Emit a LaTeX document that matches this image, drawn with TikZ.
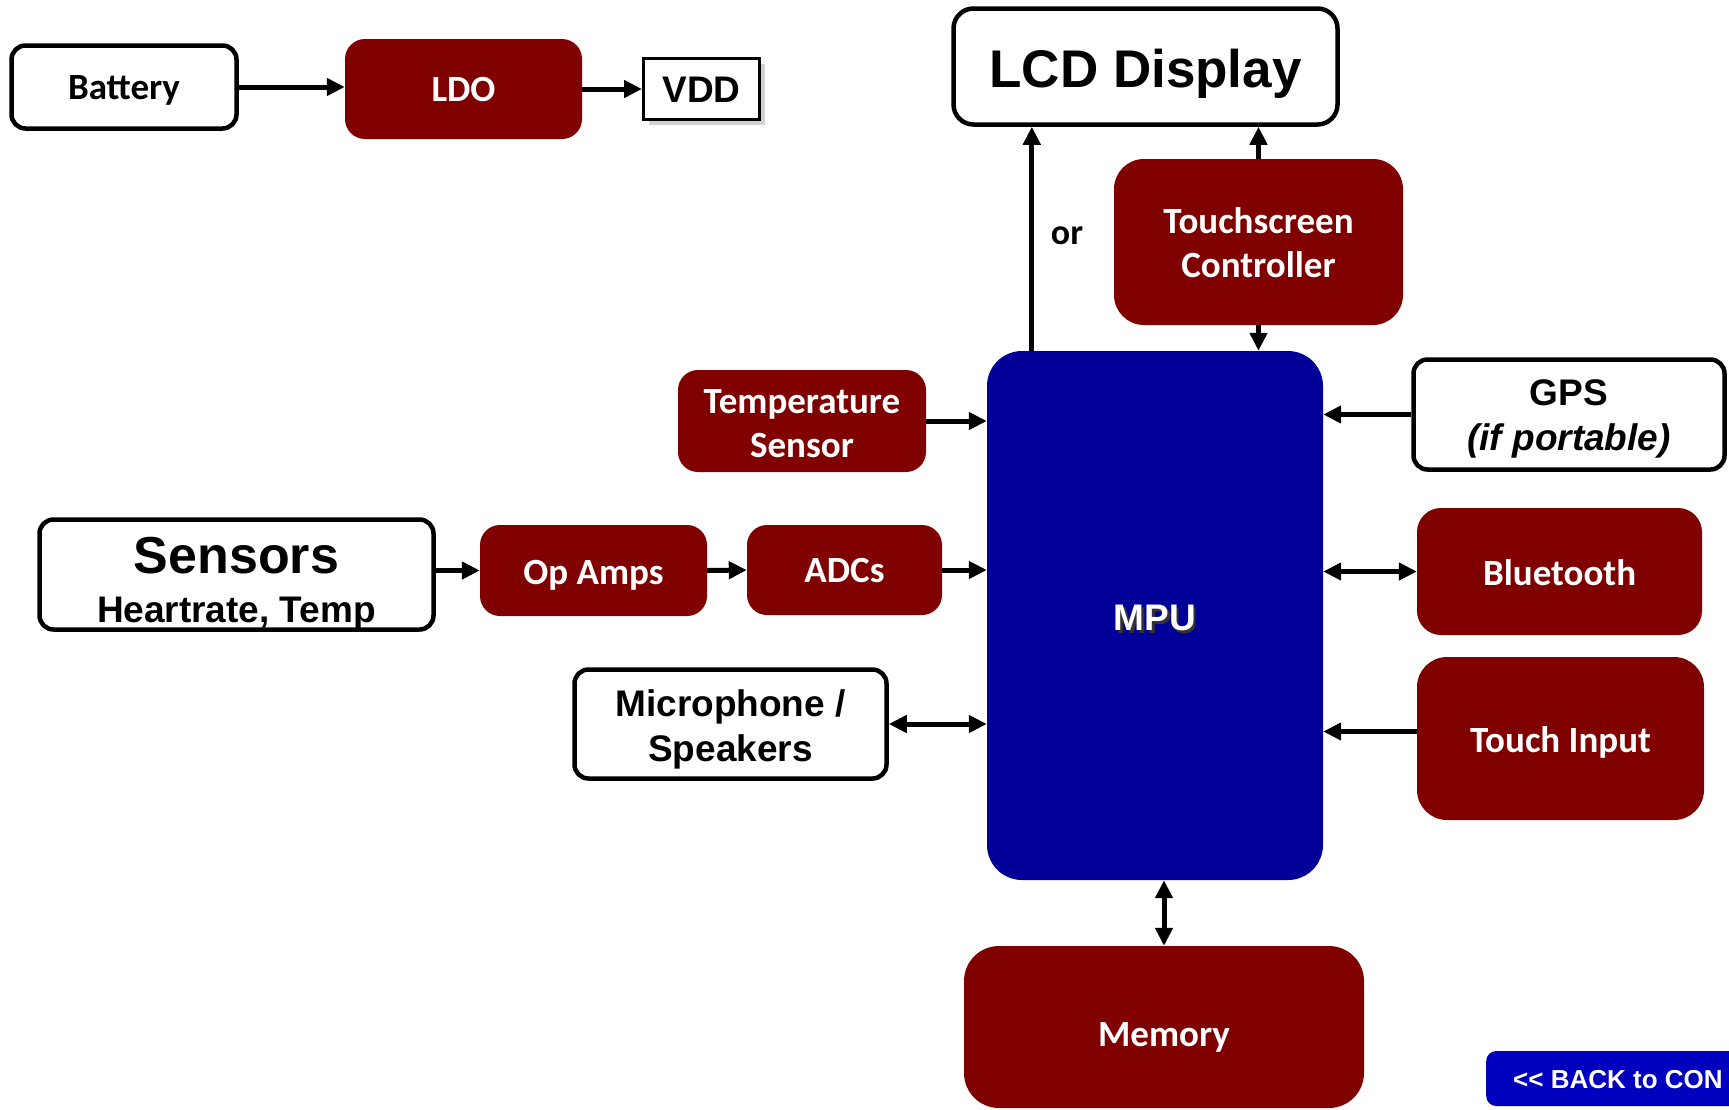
\documentclass[tikz,border=0pt]{standalone}
\usepackage{fontspec}
\setmainfont{Carlito}
\newfontfamily\arialfont{Liberation Sans}
\definecolor{chipred}{RGB}{128, 0, 0}
\definecolor{mpublue}{RGB}{0, 0, 153}
\definecolor{backblue}{RGB}{0, 0, 190}
\usepackage{tikz}
\usetikzlibrary{arrows.meta, shadows}
% first baseline sits #1 below the node centre
\newcommand{\lowered}[2]{\raisebox{-#1}[0pt][0pt]{\begin{tabular}[t]{@{}c@{}}#2\end{tabular}}}

\begin{document}
\begin{tikzpicture}[x=1pt, y=-1pt,
  redbox/.style={fill=chipred, text=white, rounded corners=20pt, inner sep=0pt, align=center,
    font=\bfseries\fontsize{37}{44}\selectfont},
  whitebox/.style={draw=black, line width=4.5pt, fill=white, rounded corners=14pt, inner sep=0pt, align=center},
  armfont/.style={font=\arialfont\bfseries\fontsize{37}{45}\selectfont},
  conn/.style={line width=5pt, -{Triangle[length=18pt, width=17pt]}},
  dconn/.style={line width=5pt, {Triangle[length=18pt, width=17pt]}-{Triangle[length=18pt, width=17pt]}}]
  \useasboundingbox (0,0) rectangle (1729,1109);
  \clip (0,0) rectangle (1729,1109);
  \fill[white] (0,0) rectangle (1729,1109);

  \node (bat) [whitebox, minimum width=225pt, minimum height=83pt,
    font=\bfseries\fontsize{37}{44}\selectfont] at (124,87) {\lowered{12.9pt}{Battery}};
  \node (ldo) [redbox, minimum width=237pt, minimum height=100pt] at (463.5,89) {\lowered{12pt}{LDO}};
  \node (vdd) [draw=black, line width=3pt, fill=white, inner sep=0pt, minimum width=116pt, minimum height=61pt,
    drop shadow={shadow xshift=5pt, shadow yshift=-5pt, fill=black!35}, armfont] at (701.5,89) {\lowered{13.5pt}{VDD}};

  \node (lcd) [whitebox, rounded corners=20pt, minimum width=384pt, minimum height=116pt,
    font=\arialfont\bfseries\fontsize{53}{60}\selectfont] at (1145.5,66.5) {\lowered{20.9pt}{LCD Display}};
  \node (tc) [redbox, rounded corners=30pt, minimum width=289pt, minimum height=166pt] at (1258.5,242)
    {\lowered{-8.7pt}{Touchscreen\\Controller}};
  \node (orlabel) [font=\bfseries\fontsize{36}{40}\selectfont, inner sep=0pt, anchor=base] at (1067,244.5) {or};

  \node (mpu) [fill=mpublue, rounded corners=35pt, minimum width=336pt, minimum height=529pt] at (1155,615.5) {};
  \node (mpushade) [armfont, text=black!80, inner sep=0pt, anchor=base] at ([xshift=2.5pt, yshift=-17.7pt]mpu.center) {MPU};
  \node (mpulabel) [armfont, text=white, inner sep=0pt, anchor=base] at ([yshift=-15.2pt]mpu.center) {MPU};

  \node (ts) [redbox, minimum width=248pt, minimum height=102pt] at (802,421) {\lowered{-7.9pt}{Temperature\\Sensor}};
  \node (gps) [whitebox, minimum width=311pt, minimum height=110pt, armfont] at (1569,414.5)
    {\lowered{-8.7pt}{GPS\\\itshape (if portable)}};

  \node (sensors) [whitebox, minimum width=394pt, minimum height=110pt,
    font=\arialfont\bfseries\fontsize{52}{49}\selectfont] at (236.5,574.5)
    {\lowered{-1.2pt}{Sensors\\\fontsize{37}{49}\selectfont Heartrate, Temp}};
  \node (opamp) [redbox, minimum width=227pt, minimum height=91pt] at (593.5,570.5) {\lowered{13.5pt}{Op Amps}};
  \node (adc) [redbox, minimum width=195pt, minimum height=90pt] at (844.5,570) {\lowered{12.9pt}{ADCs}};
  \node (bt) [redbox, rounded corners=24pt, minimum width=285pt, minimum height=127pt] at (1559.5,571.5) {\lowered{13.6pt}{Bluetooth}};

  \node (mic) [whitebox, minimum width=312pt, minimum height=109pt, armfont] at (730.5,724) {\lowered{-7.3pt}{Microphone /\\Speakers}};
  \node (ti) [redbox, rounded corners=30pt, minimum width=287pt, minimum height=163pt] at (1560.5,738.5) {\lowered{14.2pt}{Touch Input}};

  \node (mem) [redbox, rounded corners=35pt, minimum width=400pt, minimum height=162pt] at (1164,1027) {\lowered{19pt}{Memory}};

  \node (back) [fill=backblue, rounded corners=10pt, minimum width=280pt, minimum height=55pt, anchor=west] at (1486,1078.5) {};
  \node (backlabel) [anchor=west, inner sep=0pt, text=white, font=\arialfont\bfseries\fontsize{26}{30}\selectfont] at (1513,1080)
    {<\kern0pt< BACK to CON};

  \draw[conn] (bat.east) -- (bat.east -| ldo.west);
  \draw[conn] (ldo.east) -- (vdd.west);
  \draw[conn] ([xshift=45pt]mpu.north west) -- ([xshift=45pt]mpu.north west |- lcd.south);
  \draw[conn] (tc.north) -- (tc.north |- lcd.south);
  \draw[conn] (tc.south) -- (tc.south |- mpu.north);
  \draw[conn] (ts.east) -- (ts.east -| mpu.west);
  \draw[conn] (gps.west) -- (gps.west -| mpu.east);
  \draw[conn] (sensors.east |- opamp.west) -- (opamp.west);
  \draw[conn] (opamp.east) -- (adc.west);
  \draw[conn] (adc.east) -- (adc.east -| mpu.west);
  \draw[dconn] (bt.west) -- (bt.west -| mpu.east);
  \draw[dconn] (mic.east) -- (mic.east -| mpu.west);
  \draw[conn] ([yshift=7pt]ti.west) -- ([yshift=7pt]ti.west -| mpu.east);
  \draw[dconn] (mem.north) -- (mem.north |- mpu.south);
\end{tikzpicture}
\end{document}
